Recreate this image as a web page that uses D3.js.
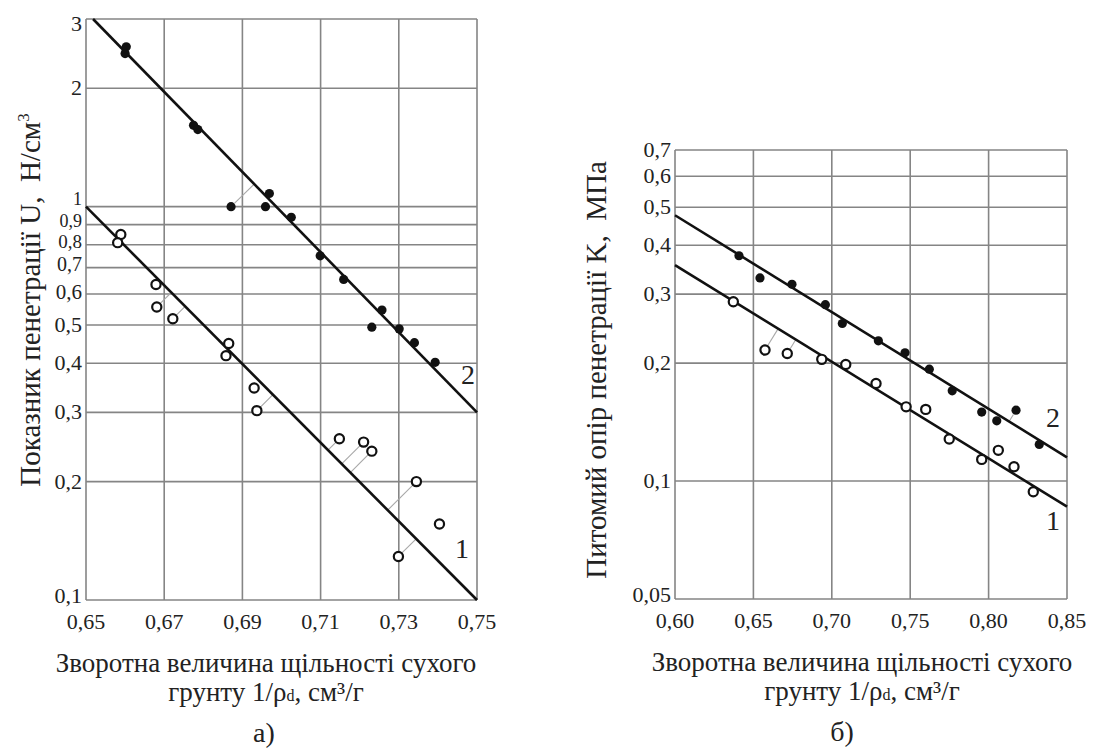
<!DOCTYPE html>
<html>
<head>
<meta charset="utf-8">
<script src="https://cdn.jsdelivr.net/npm/d3@7"></script>
<style>
  body { margin: 0; background: #fff; }
  text { font-family: "Liberation Serif", "DejaVu Serif", "Times New Roman", serif; fill: #222; }
</style>
</head>
<body>
<svg id="chart" width="1098" height="752"></svg>
<script>
// ---- panel а) : penetration index U vs 1/rho_d ----
const aXTicks = [0.65, 0.67, 0.69, 0.71, 0.73, 0.75];
const aXLabels = ["0,65", "0,67", "0,69", "0,71", "0,73", "0,75"];
const aYTicks = [3, 2, 1, 0.9, 0.8, 0.7, 0.6, 0.5, 0.4, 0.3, 0.2, 0.1];
const aYLabels = ["3", "2", "1", "0,9", "0,8", "0,7", "0,6", "0,5", "0,4", "0,3", "0,2", "0,1"];
// series 2 (filled dots)
const aFilled = [
  [0.6603, 2.55], [0.6600, 2.45], [0.6775, 1.61], [0.6786, 1.57], [0.6871, 1.00],
  [0.6959, 1.00], [0.6969, 1.08], [0.7025, 0.94], [0.7099, 0.75], [0.7159, 0.653],
  [0.7257, 0.546], [0.7231, 0.494], [0.7301, 0.489], [0.7340, 0.451], [0.7393, 0.402]
];
// series 1 (open circles)
const aOpen = [
  [0.6589, 0.850], [0.6581, 0.810], [0.6679, 0.634], [0.6681, 0.556], [0.6722, 0.519],
  [0.6865, 0.449], [0.6858, 0.418], [0.6930, 0.346], [0.6937, 0.303], [0.7148, 0.257],
  [0.7210, 0.252], [0.7231, 0.239], [0.7345, 0.200], [0.7404, 0.156], [0.7299, 0.129]
];
const aFilledLinks = [4];
const aOpenLinks = [3, 4, 8, 9, 10, 11, 12, 14];
const aLine2 = [[0.6518, 3], [0.75, 0.30]];
const aLine1 = [[0.65, 1.0], [0.75, 0.1]];

// ---- panel б) : specific penetration resistance K vs 1/rho_d ----
const bXTicks = [0.60, 0.65, 0.70, 0.75, 0.80, 0.85];
const bXLabels = ["0,60", "0,65", "0,70", "0,75", "0,80", "0,85"];
const bYTicks = [0.7, 0.6, 0.5, 0.4, 0.3, 0.2, 0.1, 0.05];
const bYLabels = ["0,7", "0,6", "0,5", "0,4", "0,3", "0,2", "0,1", "0,05"];
const bFilled = [
  [0.6408, 0.376], [0.6542, 0.330], [0.6746, 0.318], [0.6959, 0.282], [0.7067, 0.2525],
  [0.7297, 0.228], [0.7467, 0.2125], [0.7622, 0.193], [0.7768, 0.170], [0.7956, 0.150],
  [0.8052, 0.1425], [0.8175, 0.1517], [0.8323, 0.124]
];
const bOpen = [
  [0.6372, 0.287], [0.6574, 0.216], [0.6716, 0.2117], [0.6936, 0.2045], [0.7089, 0.1985],
  [0.7282, 0.1775], [0.7474, 0.1547], [0.7599, 0.1524], [0.7749, 0.128], [0.7956, 0.1136],
  [0.8062, 0.1198], [0.8162, 0.1088], [0.8285, 0.0939]
];
const bFilledLinks = [11];
const bOpenLinks = [1, 2];
const bLine2 = [[0.60, 0.477], [0.85, 0.115]];
const bLine1 = [[0.60, 0.356], [0.85, 0.086]];

const xTitle = "Зворотна величина щільності сухого";

const svg = d3.select("#chart");
svg.append("rect").attr("width", 1098).attr("height", 752).attr("fill", "#fff");

function panel(o) {
  const x = d3.scaleLinear().domain(o.xDomain).range([o.left, o.right]);
  const y = d3.scaleLog().domain(o.yDomain).range([o.bottom, o.top]);
  const g = svg.append("g");

  // grid
  g.selectAll(".vg").data(o.xTicks).enter().append("line")
    .attr("x1", d => x(d)).attr("x2", d => x(d))
    .attr("y1", o.top).attr("y2", o.bottom)
    .attr("stroke", "#858585").attr("stroke-width", 1.6);
  g.selectAll(".hg").data(o.yTicks).enter().append("line")
    .attr("x1", o.left).attr("x2", o.right)
    .attr("y1", d => y(d)).attr("y2", d => y(d))
    .attr("stroke", "#858585").attr("stroke-width", 1.6);

  // tick labels
  g.selectAll(".xl").data(o.xTicks).enter().append("text")
    .attr("x", d => x(d)).attr("y", o.bottom + 29)
    .attr("text-anchor", "middle").attr("font-size", 22)
    .text((d, i) => o.xLabels[i]);
  g.selectAll(".yl").data(o.yTicks).enter().append("text")
    .attr("x", o.left - 4).attr("y", (d, i) => y(d) + 7 + (o.yShift[i] || 0))
    .attr("text-anchor", "end").attr("font-size", (d, i) => (o.ySize && o.ySize[i]) || 22)
    .text((d, i) => o.yLabels[i]);

  // connectors from points to their fitted line
  function links(pts, idx, ln) {
    const ax = x(ln[0][0]), ay = y(ln[0][1]), bx = x(ln[1][0]), by = y(ln[1][1]);
    const dx = bx - ax, dy = by - ay, L2 = dx * dx + dy * dy;
    idx.forEach(i => {
      const px = x(pts[i][0]), py = y(pts[i][1]);
      const t = ((px - ax) * dx + (py - ay) * dy) / L2;
      const fx = ax + t * dx, fy = ay + t * dy;
      const len = Math.hypot(fx - px, fy - py);
      const sx = px + (fx - px) / len * 5, sy = py + (fy - py) / len * 5;
      g.append("line").attr("x1", sx).attr("y1", sy).attr("x2", fx).attr("y2", fy)
        .attr("stroke", "#a8a8a8").attr("stroke-width", 1.1);
    });
  }
  links(o.filled, o.filledLinks, o.line2);
  links(o.open, o.openLinks, o.line1);

  // fitted lines
  const line = d3.line().x(d => x(d[0])).y(d => y(d[1]));
  [o.line1, o.line2].forEach(l => {
    g.append("path").attr("d", line(l)).attr("fill", "none")
      .attr("stroke", "#111").attr("stroke-width", 2.6);
  });

  // points
  g.selectAll(".pf").data(o.filled).enter().append("circle")
    .attr("cx", d => x(d[0])).attr("cy", d => y(d[1])).attr("r", 4.6)
    .attr("fill", "#111");
  g.selectAll(".po").data(o.open).enter().append("circle")
    .attr("cx", d => x(d[0])).attr("cy", d => y(d[1])).attr("r", 4.6)
    .attr("fill", "#fff").attr("stroke", "#111").attr("stroke-width", 2.2);

  // series labels
  g.append("text").attr("x", o.lab2[0]).attr("y", o.lab2[1]).attr("font-size", 28).text("2");
  g.append("text").attr("x", o.lab1[0]).attr("y", o.lab1[1]).attr("font-size", 28).text("1");

  // y title
  const yt = g.append("text").attr("font-size", 29).attr("text-anchor", "middle")
    .attr("transform", `translate(${o.yTitlePos[0]},${o.yTitlePos[1]}) rotate(-90)`);
  yt.append("tspan").text(o.yTitle);
  if (o.yTitleSup) yt.append("tspan").attr("font-size", 17).attr("dy", -11).text(o.yTitleSup);

  // x title
  const cx = o.xTitleX;
  g.append("text").attr("x", cx).attr("y", o.bottom + 72).attr("text-anchor", "middle")
    .attr("font-size", 27).text(xTitle);
  const t2 = g.append("text").attr("x", cx).attr("y", o.bottom + 101).attr("text-anchor", "middle")
    .attr("font-size", 27);
  t2.append("tspan").text("грунту 1/ρ");
  t2.append("tspan").attr("font-size", 16).text("d");
  t2.append("tspan").text(", см³/г");
  g.append("text").attr("x", o.capX).attr("y", o.bottom + 142).attr("text-anchor", "middle")
    .attr("font-size", 28).text(o.caption);
}

panel({
  left: 86, right: 477, top: 19, bottom: 600,
  xDomain: [0.65, 0.75], yDomain: [0.1, 3],
  xTicks: aXTicks, xLabels: aXLabels, yTicks: aYTicks, yLabels: aYLabels,
  yShift: [5, 0, -9, -5, -4, -4, -2, 0, 0, 0, 0, -4],
  ySize: [0, 0, 18, 18, 19, 20, 21],
  filled: aFilled, open: aOpen, filledLinks: aFilledLinks, openLinks: aOpenLinks,
  line1: aLine1, line2: aLine2,
  lab2: [461, 384], lab1: [455, 558],
  yTitle: "Показник пенетрації U,\u00A0 Н/см", yTitleSup: "3", yTitlePos: [40, 300],
  xTitleX: 266, capX: 264, caption: "а)"
});

panel({
  left: 675, right: 1067, top: 150, bottom: 599,
  xDomain: [0.60, 0.85], yDomain: [0.05, 0.7],
  xTicks: bXTicks, xLabels: bXLabels, yTicks: bYTicks, yLabels: bYLabels,
  yShift: [0, 0, 0, 0, 0, 0, 0, -4],
  filled: bFilled, open: bOpen, filledLinks: bFilledLinks, openLinks: bOpenLinks,
  line1: bLine1, line2: bLine2,
  lab2: [1046, 427], lab1: [1046, 530],
  yTitle: "Питомий опір пенетрації K,\u00A0 МПа", yTitlePos: [606, 370],
  xTitleX: 862, capX: 842, caption: "б)"
});
</script>
</body>
</html>
